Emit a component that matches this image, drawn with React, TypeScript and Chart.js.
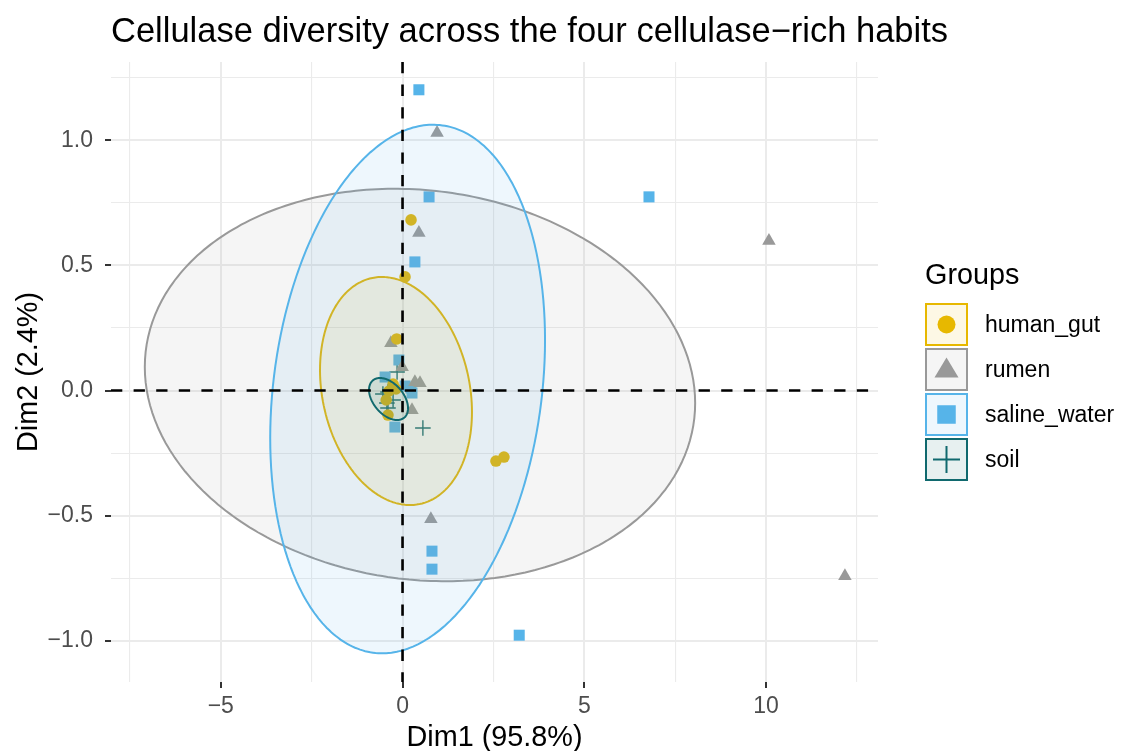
import React, { useEffect, useRef } from "react";
import { Chart, registerables } from "chart.js";

Chart.register(...registerables);

// Groups and their styling
const groups = ["human_gut", "rumen", "saline_water", "soil"];
const groupColors = ["#E7B800", "#999999", "#56B4E9", "#10696E"];
const groupShapes = ["circle", "triangle", "rect", "cross"];

// Individual coordinates on the first two dimensions
const humanGutDim1 = [0.234, 0.069, -0.16, 2.57, 2.79, -0.26, -0.18, -0.37, -0.4, -0.45];
const humanGutDim2 = [0.682, 0.454, 0.206, -0.282, -0.266, 0.026, 0.006, -0.002, -0.098, -0.038];

const rumenDim1 = [0.95, 0.45, 10.08, -0.32, 0.48, 0.34, -0.01, 0.26, 0.78, 12.17];
const rumenDim2 = [1.03, 0.63, 0.598, 0.19, 0.03, 0.034, 0.094, -0.078, -0.514, -0.742];

const salineDim1 = [0.45, 0.73, 6.78, 0.34, -0.1, 0.07, 0.23, 0.26, -0.48, -0.21, 0.81, 0.81, 3.21];
const salineDim2 = [1.202, 0.774, 0.774, 0.514, 0.122, 0.018, 0.01, -0.01, 0.054, -0.146, -0.642, -0.714, -0.978];

const soilDim1 = [0.56, -0.15, -0.4, -0.43, -0.26, -0.4, -0.54];
const soilDim2 = [-0.15, 0.074, -0.006, -0.05, -0.038, -0.07, -0.014];

// Concentration ellipses: centre, horizontal semi-axis, and the cos/sin weights of Dim2
const ellipseCenterX = [-0.18, 0.48, 0.14, -0.385];
const ellipseCenterY = [-0.002, 0.022, 0.006, -0.034];
const ellipseA = [2.09, 7.57, 3.78, 0.536];
const ellipseB = [-0.084, -0.072, 0.196, -0.0367];
const ellipseC = [0.448, 0.781, 1.038, 0.0756];

// Axes
const xLimits = [-8.02, 13.08];
const yLimits = [-1.165, 1.313];
const xMajorTicks = [-5, 0, 5, 10];
const xTickLabels = ["\u22125", "0", "5", "10"];
const xMinorTicks = [-7.5, -2.5, 2.5, 7.5, 12.5];
const yMajorTicks = [-1, -0.5, 0, 0.5, 1];
const yTickLabels = ["\u22121.0", "\u22120.5", "0.0", "0.5", "1.0"];
const yMinorTicks = [-0.75, -0.25, 0.25, 0.75, 1.25];

const titleText = "Cellulase diversity across the four cellulase\u2212rich habits";
const xTitle = "Dim1 (95.8%)";
const yTitle = "Dim2 (2.4%)";
const legendTitle = "Groups";

const FONT = "'Liberation Sans', Arial, Helvetica, sans-serif";

const pointSets = [
  [humanGutDim1, humanGutDim2],
  [rumenDim1, rumenDim2],
  [salineDim1, salineDim2],
  [soilDim1, soilDim2],
];
const pointRadii = [5.8, 7.8, 7.8, 7.8];

function alpha(hex: string, a: number) {
  const n = parseInt(hex.slice(1), 16);
  return `rgba(${(n >> 16) & 255}, ${(n >> 8) & 255}, ${n & 255}, ${a})`;
}

function ellipsePath(i: number) {
  const pts: { x: number; y: number }[] = [];
  const steps = 160;
  for (let k = 0; k <= steps; k++) {
    const t = (k / steps) * Math.PI * 2;
    pts.push({
      x: ellipseCenterX[i] + ellipseA[i] * Math.cos(t),
      y: ellipseCenterY[i] + ellipseB[i] * Math.cos(t) + ellipseC[i] * Math.sin(t),
    });
  }
  return pts;
}

function drawSymbol(ctx: CanvasRenderingContext2D, shape: string, x: number, y: number, color: string) {
  ctx.save();
  ctx.fillStyle = color;
  ctx.strokeStyle = color;
  if (shape === "circle") {
    ctx.beginPath();
    ctx.arc(x, y, 9, 0, Math.PI * 2);
    ctx.fill();
  } else if (shape === "triangle") {
    ctx.beginPath();
    ctx.moveTo(x, y - 12);
    ctx.lineTo(x + 12, y + 8);
    ctx.lineTo(x - 12, y + 8);
    ctx.closePath();
    ctx.fill();
  } else if (shape === "rect") {
    ctx.fillRect(x - 9.25, y - 9.25, 18.5, 18.5);
  } else {
    ctx.lineWidth = 2;
    ctx.beginPath();
    ctx.moveTo(x - 13.5, y);
    ctx.lineTo(x + 13.5, y);
    ctx.moveTo(x, y - 13.5);
    ctx.lineTo(x, y + 13.5);
    ctx.stroke();
  }
  ctx.restore();
}

const decorations = {
  id: "decorations",
  afterDatasetsDraw(chart: any) {
    const { ctx, chartArea, scales } = chart;
    const x0 = scales.x.getPixelForValue(0);
    const y0 = scales.y.getPixelForValue(0);
    ctx.save();
    ctx.beginPath();
    ctx.rect(chartArea.left, chartArea.top, chartArea.right - chartArea.left, chartArea.bottom - chartArea.top);
    ctx.clip();
    ctx.strokeStyle = "#000000";
    ctx.lineWidth = 2.6;
    ctx.setLineDash([11.3, 11.3]);
    ctx.beginPath();
    ctx.moveTo(chartArea.left, y0);
    ctx.lineTo(chartArea.right, y0);
    ctx.moveTo(x0, chartArea.top);
    ctx.lineTo(x0, chartArea.bottom);
    ctx.stroke();
    ctx.restore();
  },
  afterDraw(chart: any) {
    const { ctx, chartArea } = chart;
    ctx.save();
    ctx.fillStyle = "#000000";
    ctx.textAlign = "left";
    ctx.textBaseline = "alphabetic";
    ctx.font = `34.5px ${FONT}`;
    ctx.fillText(titleText, chartArea.left, 42);

    ctx.font = `28.8px ${FONT}`;
    ctx.textAlign = "center";
    ctx.fillText(xTitle, (chartArea.left + chartArea.right) / 2, 746);

    ctx.save();
    ctx.translate(37, (chartArea.top + chartArea.bottom) / 2);
    ctx.rotate(-Math.PI / 2);
    ctx.fillText(yTitle, 0, 0);
    ctx.restore();

    // legend
    ctx.textAlign = "left";
    ctx.font = `28.8px ${FONT}`;
    ctx.fillText(legendTitle, 925, 284);
    ctx.font = `23px ${FONT}`;
    ctx.textBaseline = "middle";
    const boxX = 925;
    const boxTop = 303;
    const pitch = 45;
    const size = 43;
    groups.forEach((g, i) => {
      const top = boxTop + i * pitch;
      ctx.fillStyle = "#ffffff";
      ctx.fillRect(boxX, top, size, size);
      ctx.fillStyle = alpha(groupColors[i], 0.1);
      ctx.fillRect(boxX, top, size, size);
      drawSymbol(ctx, groupShapes[i], boxX + size / 2, top + size / 2, groupColors[i]);
      ctx.strokeStyle = groupColors[i];
      ctx.lineWidth = 2;
      ctx.strokeRect(boxX + 1, top + 1, size - 2, size - 2);
      ctx.fillStyle = "#000000";
      ctx.fillText(g, 985, top + size / 2 + 1);
    });
    ctx.restore();
  },
};

function tickSetup(major: number[], minor: number[], labels: string[]) {
  const isMajor = (v: number) => major.some((m) => Math.abs(m - v) < 1e-9);
  return {
    afterBuildTicks: (scale: any) => {
      scale.ticks = [...major, ...minor].sort((a, b) => a - b).map((v) => ({ value: v }));
    },
    ticks: {
      autoSkip: false,
      maxRotation: 0,
      minRotation: 0,
      color: "#4D4D4D",
      font: { family: FONT, size: 23 },
      callback: (value: number) => {
        const idx = major.findIndex((m) => Math.abs(m - value) < 1e-9);
        return idx >= 0 ? labels[idx] : "";
      },
    },
    grid: {
      color: "#EBEBEB",
      lineWidth: (c: any) => (c.tick && isMajor(c.tick.value) ? 2 : 1.1),
      drawTicks: true,
      tickLength: 6,
      tickWidth: 2,
      tickColor: (c: any) => (c.tick && isMajor(c.tick.value) ? "#333333" : "rgba(0,0,0,0)"),
    },
    border: { display: false },
  };
}

export default function App() {
  const canvasRef = useRef<HTMLCanvasElement | null>(null);

  useEffect(() => {
    if (!canvasRef.current) return;

    const pointDatasets = pointSets.map(([xs, ys], i) => ({
      type: "scatter" as const,
      label: groups[i],
      data: xs.map((x, k) => ({ x, y: ys[k] })),
      pointStyle: groupShapes[i],
      pointRadius: pointRadii[i],
      pointHoverRadius: pointRadii[i],
      backgroundColor: groupColors[i],
      borderColor: groupColors[i],
      borderWidth: groupShapes[i] === "cross" ? 1.4 : 0,
      order: 2,
    }));

    // a tiny tension keeps the full outline (no per-pixel path shortcut)
    const ellipseDatasets = groups.map((g, i) => ({
      type: "line" as const,
      label: `${g} ellipse`,
      data: ellipsePath(i),
      borderColor: groupColors[i],
      borderWidth: 2,
      backgroundColor: alpha(groupColors[i], 0.1),
      fill: "shape",
      pointRadius: 0,
      pointHoverRadius: 0,
      tension: 0.0001,
      order: 1.3 - i * 0.1,
    }));

    const xSetup = tickSetup(xMajorTicks, xMinorTicks, xTickLabels);
    const ySetup = tickSetup(yMajorTicks, yMinorTicks, yTickLabels);

    const chart = new Chart(canvasRef.current, {
      type: "scatter",
      data: { datasets: [...pointDatasets, ...ellipseDatasets] as any },
      options: {
        responsive: false,
        animation: false,
        devicePixelRatio: 1,
        events: [],
        layout: { padding: { top: 62, right: 247, bottom: 0, left: 0 } },
        plugins: {
          legend: { display: false },
          title: { display: false },
          tooltip: { enabled: false },
        },
        scales: {
          x: {
            type: "linear",
            min: xLimits[0],
            max: xLimits[1],
            afterFit: (scale: any) => {
              scale.height = 69;
            },
            afterBuildTicks: xSetup.afterBuildTicks,
            ticks: { ...xSetup.ticks, padding: 5 },
            grid: xSetup.grid,
            border: xSetup.border,
          },
          y: {
            type: "linear",
            min: yLimits[0],
            max: yLimits[1],
            afterFit: (scale: any) => {
              scale.width = 111;
            },
            afterBuildTicks: ySetup.afterBuildTicks,
            ticks: { ...ySetup.ticks, padding: 12 },
            grid: ySetup.grid,
            border: ySetup.border,
          },
        },
      } as any,
      plugins: [decorations],
    });

    return () => chart.destroy();
  }, []);

  return (
    <div style={{ position: "fixed", left: 0, top: 0, width: 1125, height: 751, background: "#ffffff" }}>
      <canvas ref={canvasRef} width={1125} height={751} style={{ display: "block" }} />
    </div>
  );
}
